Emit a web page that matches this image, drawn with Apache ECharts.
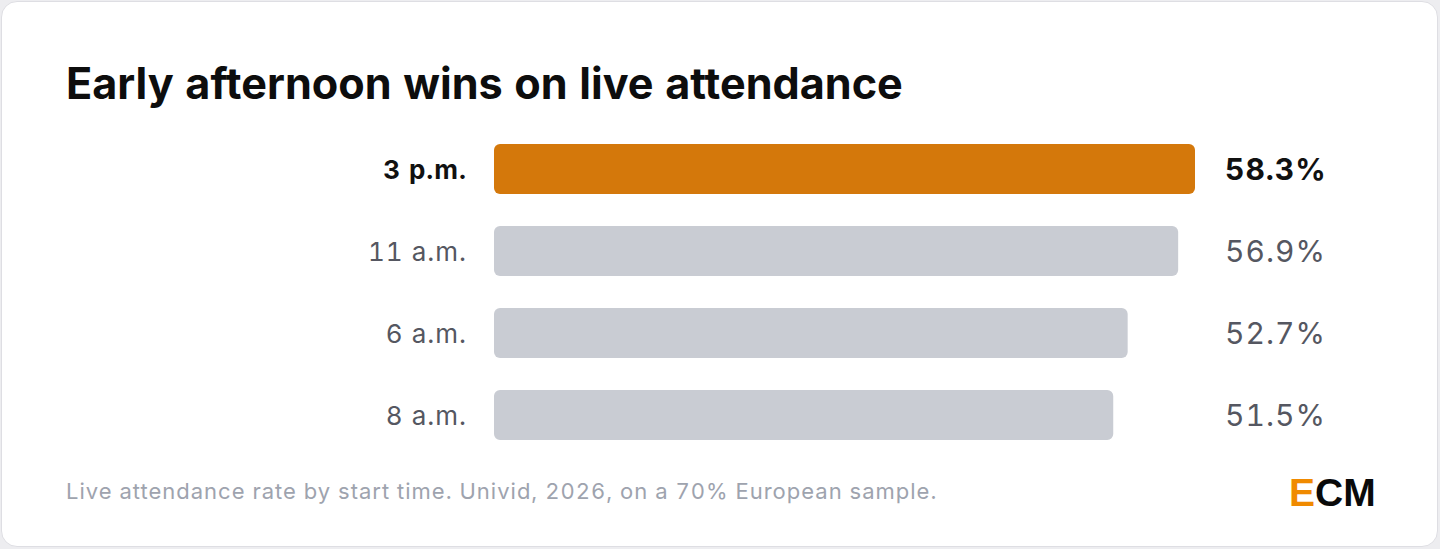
<!DOCTYPE html>
<html>
<head>
<meta charset="utf-8">
<script src="https://cdn.jsdelivr.net/npm/echarts@6/dist/echarts.min.js"></script>
<style>
  html, body { margin: 0; padding: 0; background: #ededf0; }
  #card {
    position: absolute; left: 1px; top: 1px; width: 1435px; height: 544px;
    background: #fff; border: 1px solid #dedee3; border-radius: 16px;
  }
  #chart { position: absolute; left: 0; top: 0; width: 1440px; height: 549px; }
  /* tabular figures and a little tracking on labels and note */
  #chart text { font-variant-numeric: tabular-nums !important; letter-spacing: 1px !important; }
  #chart text[fill="#0d0d0d"],
  #chart text[fill="#f08a00"],
  #chart text[fill="#0a0a0a"] { letter-spacing: 0 !important; }
</style>
</head>
<body>
<div id="card"></div>
<div id="chart"></div>
<script>
// data
const categories = ["3 p.m.", "11 a.m.", "6 a.m.", "8 a.m."];
const values = [58.3, 56.9, 52.7, 51.5];
const highlight = "3 p.m.";

const titleText = "Early afternoon wins on live attendance";
const footerText = "Live attendance rate by start time. Univid, 2026, on a 70% European sample.";

const orange = "#d4780b";
const grey = "#c9ccd3";
const font = "Inter, 'Noto Sans', sans-serif";
const logoFont = "'Liberation Sans', Arial, sans-serif";

const myChart = echarts.init(document.getElementById("chart"), null, { renderer: "svg" });

const option = {
  animation: false,
  title: {
    text: titleText,
    left: 66,
    top: 61,
    padding: 0,
    textStyle: { fontFamily: font, fontSize: 43.2, fontWeight: 700, color: "#0d0d0d" }
  },
  grid: { left: 494, right: 245, top: 128, bottom: 93 },
  xAxis: {
    type: "value",
    min: 0,
    max: Math.max(...values),
    show: false
  },
  yAxis: [
    {
      type: "category",
      data: categories,
      inverse: true,
      axisLine: { show: false },
      axisTick: { show: false },
      axisLabel: {
        margin: 27,
        formatter: (v) => v === highlight ? "{b|" + v + "}" : "{n|" + v + "}",
        rich: {
          b: { fontFamily: font, fontSize: 26, fontWeight: 700, color: "#111" },
          n: { fontFamily: font, fontSize: 26, color: "#555761" }
        }
      }
    },
    {
      type: "category",
      data: categories,
      inverse: true,
      position: "right",
      axisLine: { show: false },
      axisTick: { show: false },
      axisLabel: {
        margin: 30,
        formatter: (v, i) => {
          const t = values[i].toFixed(1) + "%";
          return v === highlight ? "{b|" + t + "}" : "{n|" + t + "}";
        },
        rich: {
          b: { fontFamily: font, fontSize: 30, fontWeight: 700, color: "#111" },
          n: { fontFamily: font, fontSize: 30, color: "#555761" }
        }
      }
    }
  ],
  series: [
    {
      type: "bar",
      barWidth: 50,
      data: values.map((v, i) => ({
        value: v,
        itemStyle: { color: categories[i] === highlight ? orange : grey }
      })),
      itemStyle: { borderRadius: 6 }
    }
  ],
  graphic: [
    {
      type: "text",
      left: 66,
      top: 480,
      style: { text: footerText, font: "22px " + font, fill: "#9ea3ae" }
    },
    {
      type: "text",
      left: 1289,
      top: 473,
      style: {
        text: "{e|E}{r|CM}",
        rich: {
          e: { fontFamily: logoFont, fontSize: 39, fontWeight: 700, fill: "#f08a00" },
          r: { fontFamily: logoFont, fontSize: 39, fontWeight: 700, fill: "#0a0a0a" }
        }
      }
    }
  ]
};

myChart.setOption(option);
</script>
</body>
</html>
